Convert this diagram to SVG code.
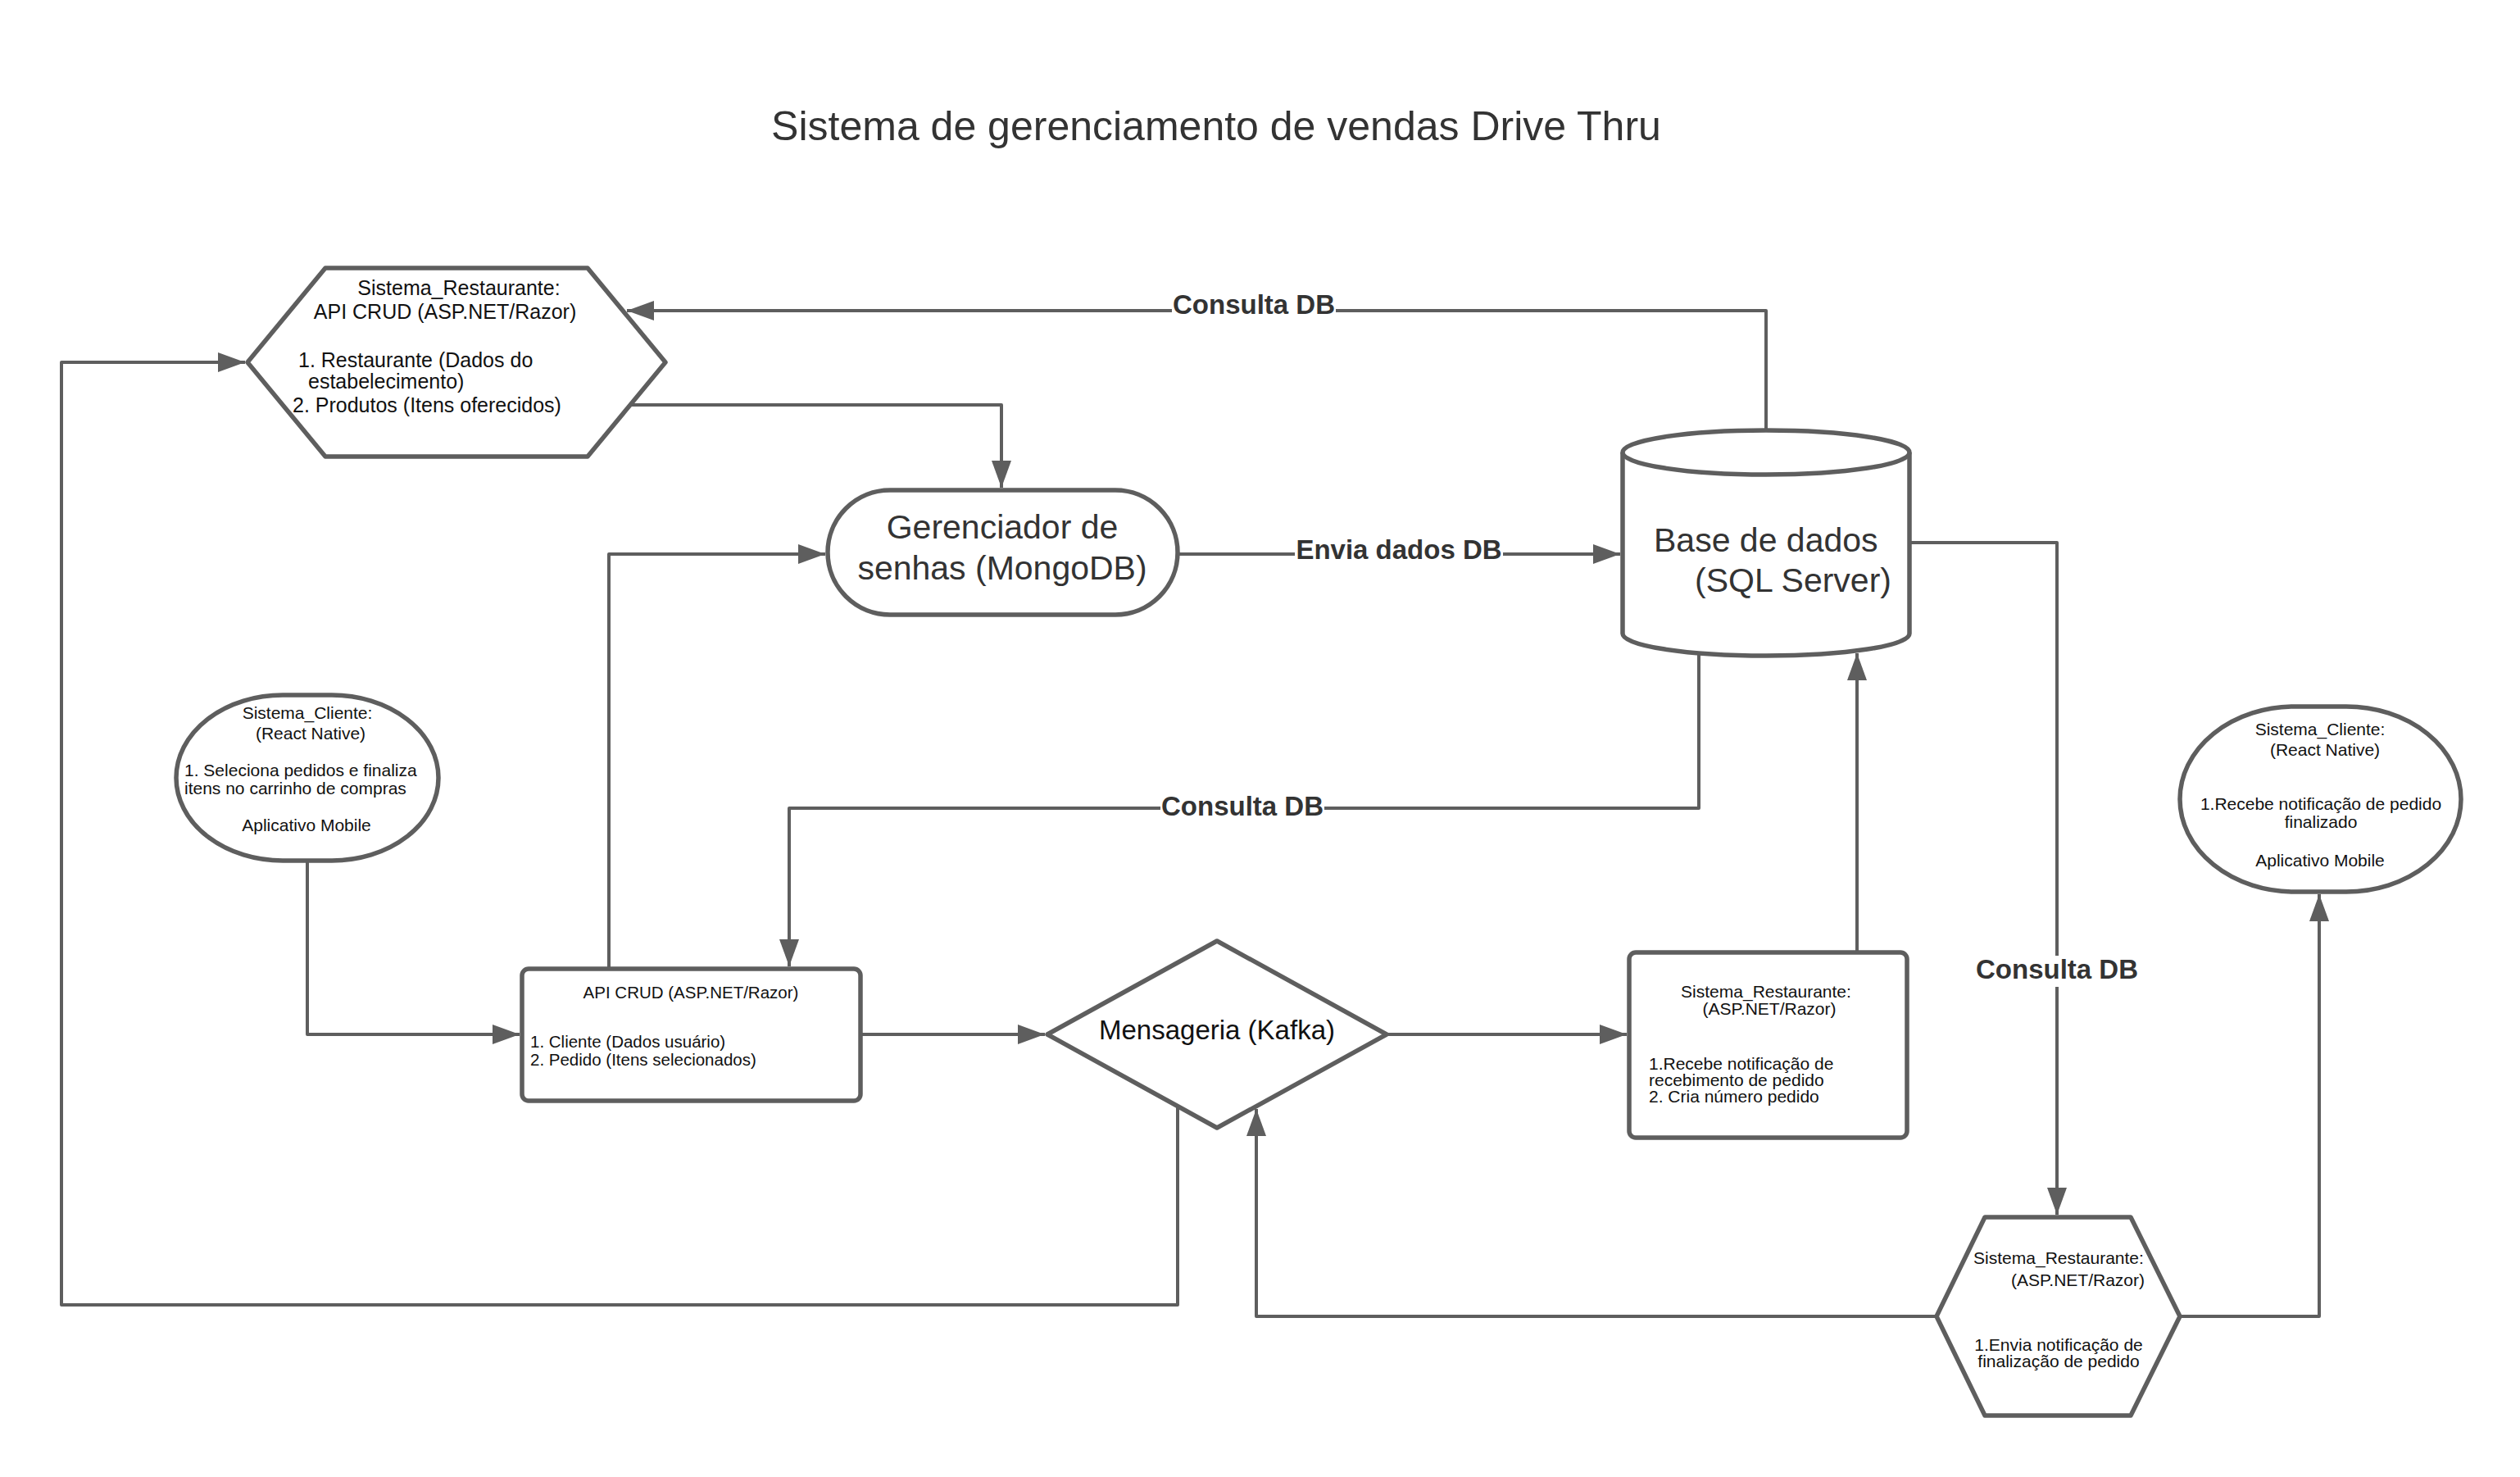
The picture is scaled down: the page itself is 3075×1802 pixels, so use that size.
<svg xmlns="http://www.w3.org/2000/svg" width="3075" height="1802" viewBox="0 0 3075 1802">
<defs>
<marker id="arr" markerUnits="userSpaceOnUse" markerWidth="36" markerHeight="26" refX="33" refY="12" orient="auto">
<path d="M0,0 L33,12 L0,24 Z" fill="#5e5e5e"/>
</marker>
<style>
.node{fill:#fff;stroke:#5e5e5e;stroke-width:5.5;stroke-linejoin:round}
.conn{fill:none;stroke:#5e5e5e;stroke-width:4;stroke-linejoin:round}
.t{font-family:"Liberation Sans",Arial,sans-serif;fill:#111}
.big{font-family:"Liberation Sans",Arial,sans-serif;fill:#333;font-size:41px}
.lbl{font-family:"Liberation Sans",Arial,sans-serif;fill:#333;font-size:33px;font-weight:bold;text-anchor:middle}
.bg{fill:#fff}
</style>
</defs>
<rect width="3075" height="1802" fill="#fff"/>
<text x="1484" y="171" text-anchor="middle" font-family="Liberation Sans, Arial, sans-serif" font-size="50" fill="#333">Sistema de gerenciamento de vendas Drive Thru</text>

<g id="connectors">
<path class="conn" d="M2155,525 V379 H765" marker-end="url(#arr)"/>
<path class="conn" d="M771,494 H1222 V595" marker-end="url(#arr)"/>
<path class="conn" d="M1437,676 H1977" marker-end="url(#arr)"/>
<path class="conn" d="M2330,662 H2510 V1482" marker-end="url(#arr)"/>
<path class="conn" d="M2073,797 V986 H963 V1179" marker-end="url(#arr)"/>
<path class="conn" d="M743,1182 V676 H1007" marker-end="url(#arr)"/>
<path class="conn" d="M375,1050 V1262 H634" marker-end="url(#arr)"/>
<path class="conn" d="M1050,1262 H1275" marker-end="url(#arr)"/>
<path class="conn" d="M1692,1262 H1985" marker-end="url(#arr)"/>
<path class="conn" d="M2266,1162 V797" marker-end="url(#arr)"/>
<path class="conn" d="M1437,1350 V1592 H75 V442 H299" marker-end="url(#arr)"/>
<path class="conn" d="M2363,1606 H1533 V1353" marker-end="url(#arr)"/>
<path class="conn" d="M2660,1606 H2830 V1091" marker-end="url(#arr)"/>
<rect class="bg" x="1430" y="355" width="200" height="38"/>
<text class="lbl" x="1530" y="383">Consulta DB</text>
<rect class="bg" x="1580" y="652" width="254" height="38"/>
<text class="lbl" x="1707" y="682">Envia dados DB</text>
<rect class="bg" x="1416" y="967" width="200" height="38"/>
<text class="lbl" x="1516" y="995">Consulta DB</text>
<rect class="bg" x="2410" y="1166" width="200" height="38"/>
<text class="lbl" x="2510" y="1194">Consulta DB</text>
</g>

<g id="hex-restaurante-api">
<polygon class="node" points="302,442 397,327 717,327 812,442 717,557 397,557"/>
<text class="t" font-size="25"><tspan x="560" y="360" text-anchor="middle">Sistema_Restaurante:</tspan><tspan x="543" y="389" text-anchor="middle">API CRUD (ASP.NET/Razor)</tspan><tspan x="364" y="448">1. Restaurante (Dados do</tspan><tspan x="376" y="474">estabelecimento)</tspan><tspan x="357" y="503">2. Produtos (Itens oferecidos)</tspan></text>
</g>

<g id="gerenciador-senhas">
<rect class="node" x="1010" y="598" width="427" height="152" rx="76" ry="76"/>
<text class="big" text-anchor="middle"><tspan x="1223" y="657">Gerenciador de</tspan><tspan x="1223" y="707">senhas (MongoDB)</tspan></text>
</g>

<g id="base-dados">
<path class="node" d="M1980,552 A175,27 0 0,1 2330,552 L2330,773 A175,27 0 0,1 1980,773 Z"/>
<path class="node" fill="none" d="M1980,552 A175,27 0 0,0 2330,552"/>
<text class="big"><tspan x="2018" y="673">Base de dados</tspan><tspan x="2068" y="722">(SQL Server)</tspan></text>
</g>

<g id="cliente-app">
<rect class="node" x="215" y="848" width="320" height="202" rx="130" ry="101"/>
<text class="t" font-size="21"><tspan x="375" y="877" text-anchor="middle">Sistema_Cliente:</tspan><tspan x="379" y="902" text-anchor="middle">(React Native)</tspan><tspan x="225" y="947">1. Seleciona pedidos e finaliza</tspan><tspan x="225" y="969">itens no carrinho de compras</tspan><tspan x="374" y="1014" text-anchor="middle">Aplicativo Mobile</tspan></text>
</g>

<g id="api-crud-cliente">
<rect class="node" x="637" y="1182" width="413" height="161" rx="8" ry="8"/>
<text class="t" font-size="20.5"><tspan x="843" y="1218" text-anchor="middle">API CRUD (ASP.NET/Razor)</tspan><tspan x="647" y="1278">1. Cliente (Dados usuário)</tspan><tspan x="647" y="1300">2. Pedido (Itens selecionados)</tspan></text>
</g>

<g id="mensageria">
<polygon class="node" points="1278,1262 1485,1148 1692,1262 1485,1376"/>
<text class="t" font-size="33" x="1485" y="1268" text-anchor="middle">Mensageria (Kafka)</text>
</g>

<g id="restaurante-recebe">
<rect class="node" x="1988" y="1162" width="339" height="226" rx="8" ry="8"/>
<text class="t" font-size="21"><tspan x="2155" y="1217" text-anchor="middle">Sistema_Restaurante:</tspan><tspan x="2159" y="1238" text-anchor="middle">(ASP.NET/Razor)</tspan><tspan x="2012" y="1305">1.Recebe notificação de</tspan><tspan x="2012" y="1325">recebimento de pedido</tspan><tspan x="2012" y="1345">2. Cria número pedido</tspan></text>
</g>

<g id="restaurante-envia">
<polygon class="node" points="2363,1606 2422,1485 2600,1485 2660,1606 2600,1727 2422,1727"/>
<text class="t" font-size="21"><tspan x="2512" y="1542" text-anchor="middle">Sistema_Restaurante:</tspan><tspan x="2617" y="1569" text-anchor="end">(ASP.NET/Razor)</tspan><tspan x="2512" y="1648" text-anchor="middle">1.Envia notificação de</tspan><tspan x="2512" y="1668" text-anchor="middle">finalização de pedido</tspan></text>
</g>

<g id="cliente-notificacao">
<rect class="node" x="2660" y="862" width="343" height="226" rx="140" ry="113"/>
<text class="t" font-size="21"><tspan x="2831" y="897" text-anchor="middle">Sistema_Cliente:</tspan><tspan x="2837" y="922" text-anchor="middle">(React Native)</tspan><tspan x="2832" y="988" text-anchor="middle">1.Recebe notificação de pedido</tspan><tspan x="2832" y="1010" text-anchor="middle">finalizado</tspan><tspan x="2831" y="1057" text-anchor="middle">Aplicativo Mobile</tspan></text>
</g>
</svg>
